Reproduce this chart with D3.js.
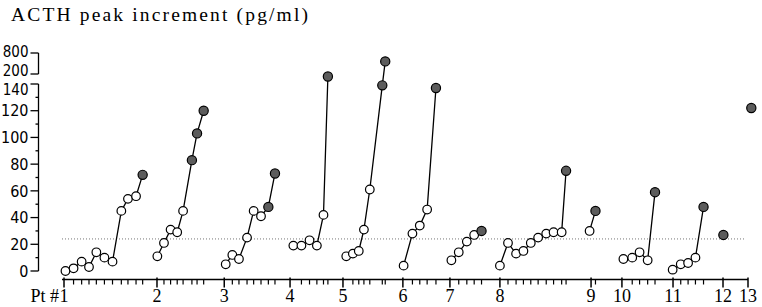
<!DOCTYPE html>
<html lang="en">
<head>
    <meta charset="UTF-8">
    <title>ACTH peak increment</title>
    <script src="https://d3js.org/d3.v7.min.js"></script>
    <style>
        body { margin: 0; background: #fff; }
    </style>
</head>
<body>
    <svg></svg>

    <script>
        const w = 762;
        const h = 307;

        // patient ticks along the x axis (sample slots)
        const ptLabels = ["1", "2", "3", "4", "5", "6", "7", "8", "9", "10", "11", "12", "13"];
        const ptTick = [0, 12.65, 21.8, 30.75, 37.95, 46.1, 52.5, 59.3, 71.7, 75.9, 82.85, 89.65, 93.05];

        // sample position of every point, per patient
        const ptX = [
            [0.2, 1.3, 2.4, 3.4, 4.4, 5.5, 6.6, 7.8, 8.7, 9.8, 10.7],
            [12.7, 13.6, 14.5, 15.4, 16.2, 17.4, 18.1, 19.0],
            [22.0, 22.9, 23.8, 24.9, 25.8, 26.8, 27.8, 28.7],
            [31.2, 32.3, 33.4, 34.4, 35.3, 35.9],
            [38.4, 39.3, 40.1, 40.8, 41.6, 43.3, 43.7],
            [46.2, 47.4, 48.4, 49.4, 50.6],
            [52.7, 53.7, 54.8, 55.8, 56.8],
            [59.3, 60.4, 61.5, 62.5, 63.5, 64.5, 65.6, 66.6, 67.7, 68.3],
            [71.5, 72.3],
            [76.1, 77.3, 78.3, 79.4, 80.4],
            [82.8, 83.9, 84.9, 85.9, 87.0],
            [89.7],
            [93.5]
        ];

        // ACTH peak increment (pg/ml)
        const ptY = [
            [0, 2, 7, 3, 14, 10, 7, 45, 54, 56, 72],
            [11, 21, 31, 29, 45, 83, 103, 120],
            [5, 12, 9, 25, 45, 41, 48, 73],
            [19, 19, 23, 19, 42, 185],
            [11, 13, 15, 31, 61, 139, 560],
            [4, 28, 34, 46, 137],
            [8, 14, 22, 27, 30],
            [4, 21, 13, 15, 21, 25, 28, 29, 29, 75],
            [30, 45],
            [9, 10, 14, 8, 59],
            [1, 5, 6, 10, 48],
            [27],
            [122]
        ];

        // how many of the last points in each patient are filled
        const ptFilled = [1, 3, 2, 1, 2, 1, 1, 1, 1, 1, 1, 1, 1];

        const yTicks = [0, 20, 40, 60, 80, 100, 120, 140];
        const yMinor = [10, 30, 50, 70, 90, 110, 130];
        const yUpper = [200, 800];
        const refLevel = 24;

        const svg = d3.select("svg")
            .attr("width", w)
            .attr("height", h);

        const x = d3.scaleLinear()
            .domain([0, 93.05])
            .range([64, 748]);

        // broken axis: 0-140 linear, then 200-800 squeezed on top
        const y = d3.scaleLinear()
            .domain([0, 140, 200, 800])
            .range([271, 84, 74, 53]);

        const axisX = 38.5;
        const baseY = 279.5;

        // title
        svg.append("text")
            .attr("x", 11)
            .attr("y", 21)
            .attr("font-family", "'Liberation Serif', 'Times New Roman', serif")
            .attr("font-size", 19.5)
            .attr("textLength", 297)
            .attr("lengthAdjust", "spacing")
            .text("ACTH peak increment (pg/ml)");

        // y axis, lower part
        const yAxis = svg.append("g")
            .attr("transform", `translate(${axisX},0)`);

        yAxis.append("line")
            .attr("x1", 0).attr("x2", 0)
            .attr("y1", y(0)).attr("y2", y(140))
            .attr("stroke", "#000").attr("stroke-width", 1.3);

        yAxis.selectAll(".major")
            .data(yTicks)
            .enter()
            .append("line")
                .attr("x1", -8).attr("x2", 0)
                .attr("y1", d => y(d)).attr("y2", d => y(d))
                .attr("stroke", "#000").attr("stroke-width", 1.3);

        yAxis.selectAll(".minor")
            .data(yMinor)
            .enter()
            .append("line")
                .attr("x1", -3).attr("x2", 0)
                .attr("y1", d => y(d)).attr("y2", d => y(d))
                .attr("stroke", "#000").attr("stroke-width", 1.3);

        // y axis, upper part
        yAxis.append("line")
            .attr("x1", 0).attr("x2", 0)
            .attr("y1", y(200)).attr("y2", y(800))
            .attr("stroke", "#000").attr("stroke-width", 1.3);

        yAxis.selectAll(".upper")
            .data(yUpper)
            .enter()
            .append("line")
                .attr("x1", -8).attr("x2", 0)
                .attr("y1", d => y(d)).attr("y2", d => y(d))
                .attr("stroke", "#000").attr("stroke-width", 1.3);

        // labels either side of the break are nudged apart, as in the original
        const nudge = { 800: -1, 200: -3, 140: 6 };

        yAxis.selectAll("text")
            .data(yTicks.concat(yUpper))
            .enter()
            .append("text")
                .attr("x", -10)
                .attr("y", d => y(d) + (nudge[d] || 0))
                .attr("dy", "0.36em")
                .attr("text-anchor", "end")
                .attr("font-family", "'Liberation Sans Narrow', 'Arial Narrow', 'DejaVu Sans Condensed', sans-serif")
                .attr("font-size", d => d >= 140 ? 15 : 16)
                .text(d => d);

        // x axis
        const xAxis = svg.append("g");

        xAxis.append("line")
            .attr("x1", 62).attr("x2", 748)
            .attr("y1", baseY).attr("y2", baseY)
            .attr("stroke", "#000").attr("stroke-width", 1.5);

        const minor = [];
        ptX.forEach(xs => xs.slice(1).forEach(v => minor.push(v)));

        xAxis.selectAll(".xminor")
            .data(minor)
            .enter()
            .append("line")
                .attr("x1", d => x(d)).attr("x2", d => x(d))
                .attr("y1", baseY).attr("y2", baseY + 5)
                .attr("stroke", "#000").attr("stroke-width", 1.2);

        xAxis.selectAll(".xmajor")
            .data(ptTick)
            .enter()
            .append("line")
                .attr("x1", d => x(d)).attr("x2", d => x(d))
                .attr("y1", baseY - 2).attr("y2", baseY + 8)
                .attr("stroke", "#000").attr("stroke-width", 1.5);

        xAxis.selectAll("text")
            .data(ptTick)
            .enter()
            .append("text")
                .attr("x", d => x(d))
                .attr("y", 302)
                .attr("text-anchor", "middle")
                .attr("font-family", "'Liberation Serif', 'Times New Roman', serif")
                .attr("font-size", 18)
                .text((d, i) => ptLabels[i]);

        svg.append("text")
            .attr("x", 59)
            .attr("y", 302)
            .attr("text-anchor", "end")
            .attr("font-family", "'Liberation Serif', 'Times New Roman', serif")
            .attr("font-size", 18)
            .text("Pt #");

        // reference level
        svg.append("line")
            .attr("x1", 62).attr("x2", 744)
            .attr("y1", y(refLevel)).attr("y2", y(refLevel))
            .attr("stroke", "#777")
            .attr("stroke-width", 1)
            .attr("stroke-dasharray", "1,2");

        // patients
        const line = d3.line()
            .x(d => x(d[0]))
            .y(d => y(d[1]));

        const patients = ptX.map((xs, p) => xs.map((v, i) => [v, ptY[p][i], i >= xs.length - ptFilled[p]]));

        const groups = svg.selectAll(".pt")
            .data(patients)
            .enter()
            .append("g");

        groups.append("path")
            .attr("d", d => line(d))
            .attr("fill", "none")
            .attr("stroke", "#000")
            .attr("stroke-width", 1.3);

        groups.selectAll("circle")
            .data(d => d)
            .enter()
            .append("circle")
                .attr("cx", d => x(d[0]))
                .attr("cy", d => y(d[1]))
                .attr("r", d => d[2] ? 4.6 : 4.3)
                .attr("fill", d => d[2] ? "#5c5c5c" : "#fff")
                .attr("stroke", "#000")
                .attr("stroke-width", 1.2);
    </script>
</body>
</html>
